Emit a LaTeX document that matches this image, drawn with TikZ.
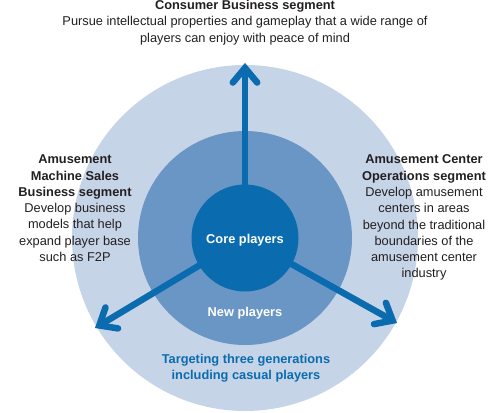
\documentclass[tikz,border=0pt]{standalone}
\usepackage{fontspec}
\setmainfont{Liberation Sans}
\usetikzlibrary{calc}
\definecolor{outerc}{HTML}{C6D4E8}
\definecolor{midc}{HTML}{6A96C6}
\definecolor{corec}{HTML}{0A6CAF}
\definecolor{txtc}{HTML}{231F20}
\begin{document}
\begin{tikzpicture}[x=1pt,y=-1pt,
  txt/.style={font=\fontsize{12.8}{16.3}\selectfont, text=txtc, align=center, inner sep=0pt, anchor=north},
  ring/.style={circle, draw=none, inner sep=0pt},
  lbl/.style={font=\fontsize{12.8}{16.3}\selectfont\bfseries, text=white, inner sep=0pt},
  shaft/.style={draw=corec, line width=6.5pt},
  head/.style={draw=corec, line width=6.5pt, line join=miter, line cap=round}]
\useasboundingbox (0,0) rectangle (489,412);
% circles
\node[ring, fill=outerc, minimum size=346pt] (outer) at (245,238) {};
\node[ring, fill=midc, minimum size=214pt] (mid) at (245,238) {};
\node[ring, fill=corec, minimum size=107pt] (core) at (245,238) {};
% arrows
\coordinate (tU) at (245,63);
\coordinate (tR) at (397,323);
\coordinate (tL) at (95,328);
\coordinate (U) at ($(tU)!5pt!(core.center)$);
\coordinate (R) at ($(tR)!5pt!(core.center)$);
\coordinate (L) at ($(tL)!5pt!(core.center)$);
\foreach \t in {U,R,L}{
  \draw[shaft] (core.center) -- (\t);
  \draw[head] ($(\t)!19pt!40:(core.center)$) -- (\t) -- ($(\t)!19pt!-40:(core.center)$);
}
% labels
\node[lbl] (corelbl) at (245,240) {Core players};
\node[lbl] (newlbl) at (245,313) {New players};
\node[txt, text=corec] (tgt) at (246,353.7) {\textbf{Targeting three generations}\\\textbf{including casual players}};
\node[txt] (cons) at (245,0.2) {\textbf{Consumer Business segment}\\Pursue intellectual properties and gameplay that a wide range of\\players can enjoy with peace of mind};
\node[txt] (ams) at (75,154.7) {\textbf{Amusement}\\\textbf{Machine Sales}\\\textbf{Business segment}\\Develop business\\models that help\\expand player base\\such as F2P};
\node[txt] (aco) at (424,154.7) {\textbf{Amusement Center}\\\textbf{Operations segment}\\Develop amusement\\centers in areas\\beyond the traditional\\boundaries of the\\amusement center\\industry};
\end{tikzpicture}
\end{document}
